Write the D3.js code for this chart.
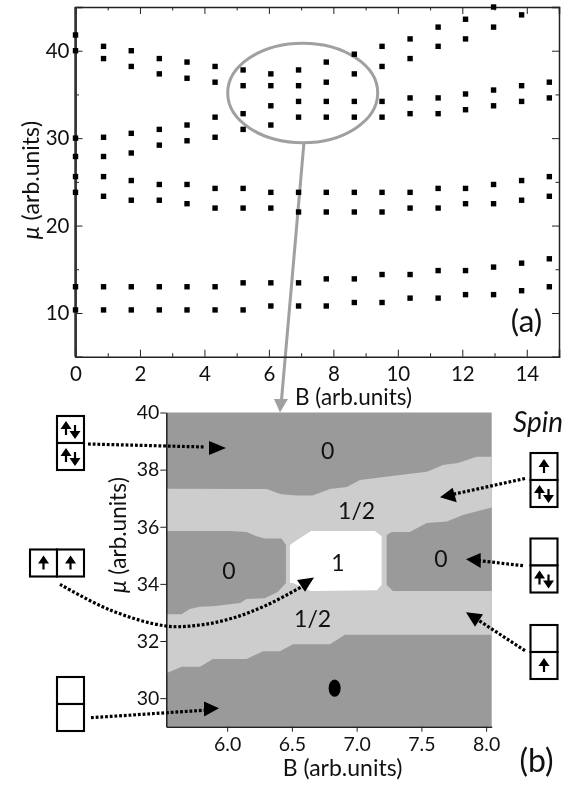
<!DOCTYPE html>
<html>
<head>
<meta charset="utf-8">
<script src="https://cdn.jsdelivr.net/npm/d3@7"></script>
<style>
  html, body { margin: 0; padding: 0; background: #fff; }
  svg { display: block; filter: blur(0.4px); }
  text { font-family: Lato, "Open Sans", sans-serif; fill: #111; }
  .axis path, .axis line { stroke: #222; }
</style>
</head>
<body>
<script>
// ---------- Panel (a): peak positions, one list of mu values per B column ----------
const magneticField = [0, 0.87, 1.73, 2.6, 3.46, 4.33, 5.2, 6.06, 6.92, 7.78, 8.65, 9.51, 10.38, 11.25, 12.1, 12.97, 13.84, 14.7];
const peakMu = [
  [41.8, 40.0, 30.0, 27.9, 25.6, 23.8, 13.0, 10.35],
  [40.5, 39.1, 30.1, 27.9, 25.6, 23.35, 13.0, 10.35],
  [40.0, 38.2, 30.55, 28.3, 25.15, 22.9, 13.0, 10.35],
  [39.1, 37.35, 31.0, 29.2, 24.7, 22.9, 13.0, 10.35],
  [38.7, 36.85, 31.5, 29.7, 24.7, 22.5, 13.0, 10.35],
  [38.2, 36.4, 32.4, 30.1, 24.25, 22.0, 13.0, 10.35],
  [37.8, 36.0, 32.8, 31.0, 24.25, 22.0, 13.45, 10.35],
  [37.35, 36.0, 33.7, 31.5, 23.8, 22.0, 13.45, 10.8],
  [37.8, 36.0, 34.2, 32.4, 23.8, 21.55, 13.45, 10.8],
  [38.7, 36.4, 34.2, 32.4, 23.8, 21.55, 13.9, 10.8],
  [39.6, 37.35, 34.2, 32.4, 23.8, 21.55, 13.9, 11.2],
  [40.5, 38.2, 34.2, 32.4, 23.8, 21.55, 14.4, 11.2],
  [41.35, 39.1, 34.6, 32.8, 23.8, 22.0, 14.4, 11.7],
  [42.7, 40.5, 34.6, 32.8, 24.25, 22.0, 14.85, 11.7],
  [43.6, 41.35, 35.05, 33.25, 24.25, 22.5, 14.85, 12.1],
  [45.0, 42.7, 35.5, 33.7, 24.7, 22.5, 15.25, 12.1],
  [44.1, 36.0, 34.2, 25.15, 22.9, 15.7, 12.55],
  [36.4, 34.6, 25.6, 23.35, 16.2, 13.0]
];
const xMajorA = [0, 2, 4, 6, 8, 10, 12, 14];
const xMinorA = [1, 3, 5, 7, 9, 11, 13, 15];
const yMajorA = [10, 20, 30, 40];
const yMinorA = [15, 25, 35];

// ---------- Panel (b): contour regions as [B, mu] ----------
const bandTop = [[5.53, 37.33], [6.305, 37.32], [6.41, 37.15], [6.485, 37.11], [6.54, 37.09], [6.66, 37.09], [6.794, 37.32], [6.925, 37.39], [7.025, 37.64], [7.335, 37.81], [7.543, 37.93], [7.667, 38.16], [7.783, 38.23], [7.927, 38.45], [8.043, 38.45]];
const bandBottom = [[8.043, 32.22], [6.91, 32.22], [6.794, 31.89], [6.508, 31.89], [6.407, 31.64], [6.276, 31.64], [6.15, 31.37], [5.89, 31.37], [5.79, 31.1], [5.648, 31.1], [5.53, 30.87]];
const islandLeft = [[5.53, 35.85], [6.02, 35.85], [6.15, 35.82], [6.227, 35.67], [6.29, 35.59], [6.42, 35.59], [6.454, 35.36], [6.454, 34.03], [6.39, 33.72], [6.29, 33.5], [6.15, 33.47], [6.10, 33.33], [5.89, 33.22], [5.79, 33.2], [5.71, 33.12], [5.648, 32.94], [5.53, 32.94]];
const islandRight = [[7.232, 35.71], [7.27, 35.82], [7.41, 35.82], [7.54, 36.13], [7.696, 36.18], [7.82, 36.41], [8.043, 36.67], [8.043, 33.75], [7.28, 33.75], [7.232, 33.96]];
const whiteRegion = [[6.485, 35.36], [6.536, 35.53], [6.647, 35.85], [7.14, 35.85], [7.193, 35.67], [7.193, 33.96], [7.155, 33.78], [6.647, 33.75], [6.508, 34.03], [6.485, 34.03]];
const dotB = 6.83;
const dotMu = 30.35;
const xTicksB = [6.0, 6.5, 7.0, 7.5, 8.0];
const yTicksB = [30, 32, 34, 36, 38, 40];
const regionLabels = ["0", "1/2", "0", "1", "0", "1/2"];
const regionLabelB = [6.776, 7.0, 6.013, 6.855, 7.65, 6.66];
const regionLabelMu = [38.69, 36.58, 34.5, 34.77, 34.91, 32.81];

// ---------- Cell diagrams and dotted arrows (page pixels, they are annotation) ----------
const occupations = [
  { x: 57, y: 416, cells: ["ud", "ud"], dir: "v" },
  { x: 30, y: 549.5, cells: ["u", "u"], dir: "h" },
  { x: 57, y: 677, cells: ["", ""], dir: "v" },
  { x: 530.5, y: 453, cells: ["u", "ud"], dir: "v" },
  { x: 530.5, y: 538.5, cells: ["", "ud"], dir: "v" },
  { x: 530.5, y: 625, cells: ["", "u"], dir: "v" }
];
const pointers = [
  { line: [[88, 444], [205, 447]], head: [[226, 448], [209, 441], [209, 455]] },
  { line: [[525, 478.5], [450, 495]], head: [[440, 497.3], [452.7, 487.7], [456.7, 502.3]] },
  { line: [[523, 565.7], [478, 560.5]], head: [[466, 559.3], [480.7, 553], [480.7, 568]] },
  { line: [[525, 650.7], [475, 618]], head: [[466, 612.3], [483, 614.3], [475, 626.7]] },
  { line: [[60, 584.3], [110, 610], [166, 626], [200, 625], [233, 618], [267, 605], [303, 586]], head: [[314, 577.5], [297, 580], [305, 591.7]], curved: true },
  { line: [[91, 717.7], [208, 710]], head: [[219, 708.3], [204, 701.5], [204, 716.5]] }
];

const width = 579;
const height = 785;
const cellSize = 27;

const svg = d3.select("body").append("svg")
  .attr("width", width)
  .attr("height", height);

// ---------- Big grey zoom marker, the peaks of panel (a) sit on top of it ----------
const marker = svg.append("g");

marker.append("ellipse")
  .attr("cx", 302.7).attr("cy", 93)
  .attr("rx", 75).attr("ry", 49.7)
  .attr("fill", "none")
  .attr("stroke", "#a0a0a0")
  .attr("stroke-width", 3);

marker.append("line")
  .attr("x1", 304).attr("y1", 142)
  .attr("x2", 281.5).attr("y2", 400)
  .attr("stroke", "#a0a0a0")
  .attr("stroke-width", 3);

// ---------- Panel (a) ----------
const xA = d3.scaleLinear().domain([0, 15]).range([75.5, 559]);
const yA = d3.scaleLinear().domain([5, 45]).range([356.7, 7]);

const panelA = svg.append("g");

function drawTicks(group, axis, major, minor, transform, showLabels, pad) {
  const g = group.append("g").attr("class", "axis").attr("transform", transform);
  g.call(axis.tickValues(major).tickSize(-7).tickPadding(pad).tickFormat(showLabels ? d3.format("d") : ""));
  g.selectAll("text").style("font-size", "20.5px");
  const g2 = group.append("g").attr("class", "axis").attr("transform", transform);
  g2.call(axis.tickValues(minor).tickSize(-3.5).tickFormat(""));
  g2.select(".domain").remove();
}

drawTicks(panelA, d3.axisBottom(xA).tickSizeOuter(0), xMajorA, xMinorA, "translate(0,356.7)", true, 10);
drawTicks(panelA, d3.axisTop(xA).tickSizeOuter(0), xMajorA, xMinorA, "translate(0,7)", false, 3);
drawTicks(panelA, d3.axisLeft(yA).tickSizeOuter(0), yMajorA, yMinorA, "translate(75.5,0)", true, 6);
drawTicks(panelA, d3.axisRight(yA).tickSizeOuter(0), yMajorA, yMinorA, "translate(559,0)", false, 3);
panelA.selectAll(".axis .domain").attr("stroke-width", 1.5);

// the left spine is heavier in the original
panelA.append("line")
  .attr("x1", 75.5).attr("x2", 75.5)
  .attr("y1", yA(5)).attr("y2", yA(45))
  .attr("stroke", "#333").attr("stroke-width", 2.5);

magneticField.forEach((b, i) => {
  panelA.selectAll(null)
    .data(peakMu[i])
    .join("rect")
    .attr("x", xA(b) - 2.7)
    .attr("y", d => yA(d) - 2.7)
    .attr("width", 5.4)
    .attr("height", 5.4)
    .attr("fill", "#000");
});

panelA.append("text")
  .attr("x", 353.5).attr("y", 405)
  .attr("text-anchor", "middle")
  .style("font-size", "22.5px")
  .text("B (arb.units)");

panelA.append("text")
  .attr("transform", "translate(39,180) rotate(-90)")
  .attr("text-anchor", "middle")
  .style("font-size", "23px")
  .html('<tspan font-style="italic">μ</tspan> (arb.units)');

panelA.append("text")
  .attr("x", 526.5).attr("y", 332)
  .attr("text-anchor", "middle")
  .style("font-size", "31.5px")
  .text("(a)");

// ---------- Panel (b) ----------
const xB = d3.scaleLinear().domain([5.53, 8.043]).range([166.3, 491.7]);
const yB = d3.scaleLinear().domain([29, 40]).range([726.7, 412.5]);
const region = d3.line().x(d => xB(d[0])).y(d => yB(d[1]));

const panelB = svg.append("g");

panelB.append("rect")
  .attr("x", xB(5.53)).attr("y", yB(40))
  .attr("width", xB(8.043) - xB(5.53))
  .attr("height", yB(29) - yB(40))
  .attr("fill", "#9a9a9a");

panelB.append("path").attr("d", region(bandTop.concat(bandBottom)) + "Z").attr("fill", "#cdcdcd");
panelB.append("path").attr("d", region(islandLeft) + "Z").attr("fill", "#9a9a9a");
panelB.append("path").attr("d", region(islandRight) + "Z").attr("fill", "#9a9a9a");
panelB.append("path").attr("d", region(whiteRegion) + "Z").attr("fill", "#fff");

panelB.append("ellipse")
  .attr("cx", xB(dotB)).attr("cy", yB(dotMu))
  .attr("rx", 6).attr("ry", 8.7)
  .attr("fill", "#000");

panelB.append("g")
  .attr("class", "axis")
  .attr("transform", "translate(0,726.7)")
  .call(d3.axisBottom(xB).tickValues(xTicksB).tickSize(5).tickSizeOuter(0).tickPadding(5).tickFormat(d3.format(".1f")))
  .selectAll("text").style("font-size", "19.5px");

panelB.append("g")
  .attr("class", "axis")
  .attr("transform", "translate(166.3,0)")
  .call(d3.axisLeft(yB).tickValues(yTicksB).tickSize(6).tickSizeOuter(0).tickPadding(1).tickFormat(d3.format("d")))
  .selectAll("text").style("font-size", "19.5px");
panelB.selectAll(".axis .domain").attr("stroke", "#555").attr("stroke-width", 1.5);

panelB.selectAll("text.region")
  .data(regionLabels)
  .join("text")
  .attr("class", "region")
  .attr("x", (d, i) => xB(regionLabelB[i]))
  .attr("y", (d, i) => yB(regionLabelMu[i]))
  .attr("text-anchor", "middle")
  .attr("dominant-baseline", "central")
  .style("font-size", "23px")
  .text(d => d);

panelB.append("text")
  .attr("x", 342.5).attr("y", 776)
  .attr("text-anchor", "middle")
  .style("font-size", "23px")
  .text("B (arb.units)");

panelB.append("text")
  .attr("transform", "translate(126,535) rotate(-90)")
  .attr("text-anchor", "middle")
  .style("font-size", "22.5px")
  .html('<tspan font-style="italic">μ</tspan> (arb.units)');

panelB.append("text")
  .attr("x", 536.5).attr("y", 771.5)
  .attr("text-anchor", "middle")
  .style("font-size", "32px")
  .text("(b)");

panelB.append("text")
  .attr("x", 513).attr("y", 431.5)
  .style("font-size", "28px")
  .style("font-style", "italic")
  .text("Spin");

// arrowhead of the zoom marker lands on the top edge of panel (b)
svg.append("path")
  .attr("d", d3.line()([[274, 399], [288, 399], [280, 412.5]]) + "Z")
  .attr("fill", "#a0a0a0");

// ---------- Occupation boxes ----------
function smallArrow(g, cx, top, bottom, up) {
  const tip = up ? top : bottom;
  const base = up ? top + 8 : bottom - 8;
  g.append("line")
    .attr("x1", cx).attr("x2", cx)
    .attr("y1", top + 2).attr("y2", bottom - 2)
    .attr("stroke", "#000").attr("stroke-width", 2.2);
  g.append("path")
    .attr("d", d3.line()([[cx, tip], [cx - 5.5, base], [cx + 5.5, base]]) + "Z")
    .attr("fill", "#000");
}

occupations.forEach(o => {
  const g = svg.append("g").attr("transform", `translate(${o.x},${o.y})`);
  o.cells.forEach((c, i) => {
    const cx = o.dir === "h" ? i * cellSize : 0;
    const cy = o.dir === "v" ? i * cellSize : 0;
    g.append("rect")
      .attr("x", cx).attr("y", cy)
      .attr("width", cellSize).attr("height", cellSize)
      .attr("fill", "#fff")
      .attr("stroke", "#000")
      .attr("stroke-width", 2.1);
    if (c === "u") {
      smallArrow(g, cx + cellSize / 2, cy + 6, cy + 22, true);
    } else if (c === "ud") {
      smallArrow(g, cx + cellSize / 2 - 4.5, cy + 5, cy + 21, true);
      smallArrow(g, cx + cellSize / 2 + 4.5, cy + 7, cy + 23, false);
    }
  });
});

// ---------- Dotted pointers ----------
pointers.forEach(p => {
  const line = d3.line().curve(p.curved ? d3.curveCatmullRom : d3.curveLinear);
  svg.append("path")
    .attr("d", line(p.line))
    .attr("fill", "none")
    .attr("stroke", "#000")
    .attr("stroke-width", 3.2)
    .attr("stroke-dasharray", "2.8 1.9");
  svg.append("path")
    .attr("d", d3.line()(p.head) + "Z")
    .attr("fill", "#000");
});
</script>
</body>
</html>
